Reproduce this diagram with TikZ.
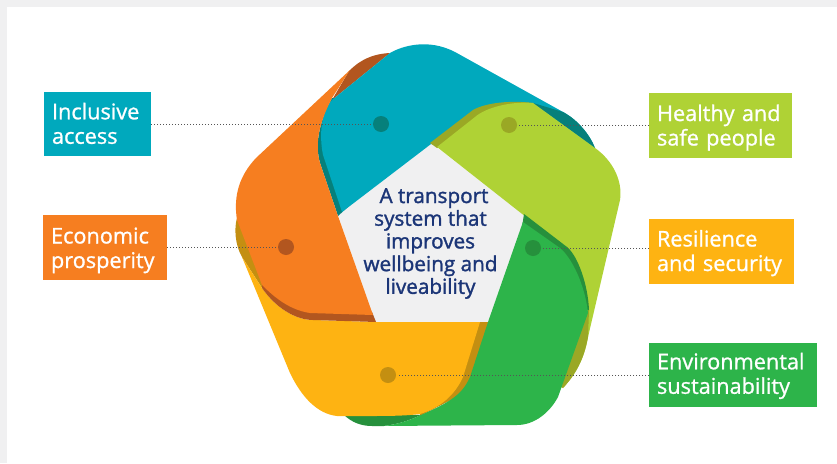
\documentclass[tikz,border=0pt]{standalone}
\usepackage{fontspec}
\setmainfont{Open Sans}
\newfontfamily\semi[FakeBold=1]{Open Sans}
\newfontfamily\semic[FakeBold=1.5]{Open Sans}
\definecolor{cteal}{HTML}{00A9BD}
\definecolor{dteal}{HTML}{06807B}
\definecolor{corange}{HTML}{F67E20}
\definecolor{dorange}{HTML}{B2561F}
\definecolor{cyellow}{HTML}{FEB312}
\definecolor{dyellow}{HTML}{C48F11}
\definecolor{clime}{HTML}{AFD235}
\definecolor{dlime}{HTML}{9AA825}
\definecolor{cgreen}{HTML}{2DB44A}
\definecolor{dgreen}{HTML}{26903C}
\definecolor{cbg}{HTML}{F0F0F1}
\definecolor{cnavy}{HTML}{1B3577}
\definecolor{cline}{HTML}{555555}
\tikzset{
  label box/.style={anchor=north west,inner xsep=8pt,inner ysep=0pt,outer sep=0pt,align=left,
    text=white,text depth=30pt,font=\semi\fontsize{21.7}{24.5}\selectfont},
  hub/.style={circle,minimum size=16pt,inner sep=0pt,outer sep=0pt},
  leader/.style={cline,line width=0.9pt,dash pattern=on 0.9pt off 2.1pt},
}
\begin{document}
\begin{tikzpicture}[x=1pt,y=-1pt]
\useasboundingbox (0,0) rectangle (837,463);
\fill[cbg] (0,0) rectangle (837,463);
\fill[white] (7,7) rectangle (837,463);
% centre pentagon
\fill[cbg] (431,143) -- (526,216) -- (488,322) -- (375,322) -- (338,215) -- cycle;
% orange corner behind teal
\fill[dorange] (349,71) .. controls (360,60) and (372,54) .. (390,53) -- (332,100) -- cycle;
% teal blade
\fill[dteal] (338,216) -- (320,163) .. controls (315,145) and (318,125) .. (332,98) -- (345,100) -- (350,205) -- cycle;
\fill[cteal] (431,144) -- (342,212) -- (323,155) .. controls (319,135) and (321,112) .. (332,100) -- (390,53) .. controls (402,46) and (428,38) .. (455,52) -- (563,112) .. controls (578,120) and (590,135) .. (595,148) -- cycle;
\fill[dteal] (533,103) -- (563,112) .. controls (578,120) and (590,135) .. (595,148) -- cycle;
% lime blade
\fill[dlime] (430,143) -- (473,110) .. controls (485,103) and (510,100) .. (533,103) -- (540,115) -- (437,148) -- cycle;
\fill[clime] (437,147) -- (475,117) .. controls (485,108) and (510,101) .. (533,103) -- (595,148) .. controls (612,160) and (623,180) .. (620,200) -- (588,337) .. controls (584,360) and (575,375) .. (563,388) -- (523,300) -- (526,217) -- cycle;
\fill[dlime] (589,310) -- (588,337) .. controls (584,360) and (575,375) .. (563,388) -- (540,380) -- (560,320) -- cycle;
% green blade with its shaded edges
\fill[dgreen] (524,214) -- (567,247) .. controls (578,256) and (588,285) .. (589,310) -- (560,310) -- (520,240) -- cycle;
\fill[dyellow] (478,322) -- (495,322) -- (480,385) -- (420,416) -- (420,405) -- cycle;
\fill[dgreen] (343,414) .. controls (352,423) and (362,426) .. (372,426) -- (383,426) .. controls (400,424) and (410,420) .. (421,415) -- cycle;
\fill[cgreen] (523,222) -- (560,248) .. controls (572,258) and (585,285) .. (588,313) -- (558,397) .. controls (550,412) and (535,425) .. (517,425) -- (383,426) .. controls (400,424) and (410,420) .. (421,415) .. controls (450,402) and (462,395) .. (470,377) -- (488,322) -- (525,216) -- cycle;
% yellow blade
\fill[dyellow] (237,218) .. controls (234,228) and (235,245) .. (242,257) -- (262,288) -- (275,250) -- cycle;
\fill[cyellow] (375,322) -- (480,322) -- (463,377) .. controls (455,395) and (440,408) .. (420,414) .. controls (405,416) and (385,416) .. (370,416) -- (337,416) .. controls (318,414) and (302,398) .. (290,373) -- (242,257) -- (262,288) .. controls (275,307) and (295,320) .. (313,320) -- cycle;
% orange blade
\fill[dorange] (376,322) -- (372,312) -- (310,310) -- (262,283) -- (262,288) .. controls (275,307) and (295,320) .. (313,320) -- cycle;
\fill[corange] (338,216) -- (373,315) -- (310,313) .. controls (290,310) and (275,298) .. (262,285) -- (237,220) .. controls (233,195) and (240,175) .. (256,158) -- (350,70) -- (332,98) .. controls (318,125) and (315,145) .. (320,163) -- cycle;
% hubs
\node[hub,fill=dteal] (hubA) at (381,124) {};
\node[hub,fill=dlime] (hubB) at (509,125) {};
\node[hub,fill=dgreen] (hubC) at (533,248) {};
\node[hub,fill=dorange] (hubD) at (286,247) {};
\node[hub,fill=dyellow] (hubE) at (388,375) {};
% label boxes
\node[label box,fill=cteal,text width=91pt,minimum height=64pt,text height=20.6pt] (inclusive) at (44,92) {Inclusive\\access};
\node[label box,fill=corange,text width=108pt,minimum height=65pt,text height=22pt] (economic) at (43,215) {Economic\\prosperity};
\node[label box,fill=clime,text width=127pt,minimum height=65pt,text height=21pt] (healthy) at (649,93) {Healthy and\\safe people};
\node[label box,fill=cyellow,text width=129pt,minimum height=65pt,text height=20pt] (resilience) at (649,219) {Resilience\\and security};
\node[label box,fill=cgreen,text width=152pt,minimum height=64pt,text height=18.6pt] (environment) at (649,343) {Environmental\\sustainability};
% leaders
\draw[leader] (inclusive.east |- hubA) -- (hubA.west);
\draw[leader] (economic.east |- hubD) -- (hubD.west);
\draw[leader,shorten >=2pt] (healthy.west |- hubB) -- (hubB.east);
\draw[leader,shorten >=2pt] (resilience.west |- hubC) -- (hubC.east);
\draw[leader,shorten >=2pt] (environment.west |- hubE) -- (hubE.east);
% centre text
\node[align=center,text=cnavy,font=\semic\fontsize{20.7}{22.7}\selectfont,inner sep=0pt] (centre) at (430.5,243.5) {\hspace*{7pt}A transport\\system that\\improves\\wellbeing and\\liveability};
\end{tikzpicture}
\end{document}
